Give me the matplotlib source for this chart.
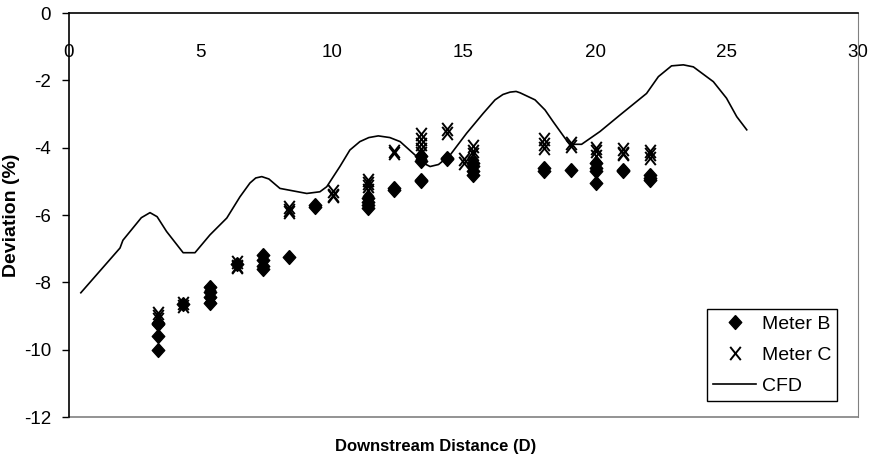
import matplotlib
matplotlib.use("Agg")
import matplotlib.pyplot as plt
from matplotlib.path import Path
import numpy as np

plt.rcParams["font.family"] = ["Liberation Sans", "DejaVu Sans"]
plt.rcParams["axes.unicode_minus"] = False

# Meter B readings, one list per downstream station
B_X = [3.4, 4.35, 5.36, 6.4, 7.36, 8.38, 9.35, 11.38, 12.36, 13.37,
       14.39, 15.35, 18.06, 19.08, 20.04, 21.05, 22.09]
B_Y = [[-9.2, -9.25, -9.6, -10.0],
       [-8.65],
       [-8.15, -8.3, -8.45, -8.6],
       [-7.45],
       [-7.2, -7.35, -7.5, -7.6],
       [-7.24],
       [-5.7, -5.75],
       [-5.5, -5.6, -5.7, -5.8],
       [-5.2, -5.25],
       [-4.25, -4.4, -4.95, -5.0],
       [-4.3, -4.35],
       [-4.45, -4.55, -4.7, -4.8],
       [-4.6, -4.7],
       [-4.65],
       [-4.45, -4.6, -4.7, -5.05],
       [-4.65, -4.7],
       [-4.8, -4.9, -4.95]]

# Meter C readings
C_X = [3.4, 4.35, 5.36, 6.4, 8.38, 10.05, 11.38, 12.36, 13.37, 14.39,
       15.02, 15.35, 18.06, 19.08, 20.04, 21.05, 22.09]
C_Y = [[-8.9, -9.0, -9.1],
       [-8.6, -8.7],
       [-8.3, -8.4],
       [-7.4, -7.5, -7.55],
       [-5.75, -5.85, -5.9],
       [-5.3, -5.4, -5.45],
       [-4.95, -5.05, -5.15, -5.25],
       [-4.1, -4.15],
       [-3.6, -3.75, -3.9, -4.05, -4.15],
       [-3.45, -3.55],
       [-4.35, -4.45],
       [-3.95, -4.1, -4.2],
       [-3.75, -3.9, -4.0],
       [-3.85, -3.95],
       [-4.0, -4.1, -4.25],
       [-4.05, -4.15, -4.2],
       [-4.1, -4.2, -4.3]]

# CFD profile
CFD_X = [0.45, 1.94, 2.05, 2.75, 3.08, 3.35, 3.71, 4.34, 4.79, 5.36, 6.0,
         6.5, 6.88, 7.1, 7.33, 7.6, 8.02, 9.04, 9.54, 9.8, 10.3, 10.68,
         11.06, 11.4, 11.76, 12.2, 12.59, 13.16, 13.45, 13.73, 14.05,
         14.49, 15.12, 15.75, 16.2, 16.5, 16.77, 17.0, 17.15, 17.72, 18.1,
         18.41, 18.86, 19.05, 19.49, 20.19, 20.95, 21.96, 22.41, 22.91,
         23.36, 23.74, 24.5, 25.0, 25.39, 25.77]
CFD_Y = [-8.31, -6.98, -6.75, -6.08, -5.93, -6.05, -6.49, -7.12, -7.12,
         -6.59, -6.09, -5.46, -5.05, -4.9, -4.86, -4.93, -5.21, -5.36,
         -5.31, -5.16, -4.56, -4.07, -3.82, -3.7, -3.65, -3.7, -3.82,
         -4.22, -4.45, -4.56, -4.5, -4.22, -3.57, -2.98, -2.58, -2.42,
         -2.35, -2.33, -2.37, -2.58, -2.88, -3.23, -3.72, -3.9, -3.9,
         -3.52, -3.03, -2.39, -1.89, -1.57, -1.54, -1.6, -2.04, -2.53,
         -3.08, -3.47]

diamond = [(0, 1), (0.9, 0), (0, -1), (-0.9, 0), (0, 1)]
cross = Path([(-0.8, -1), (0.8, 1), (-0.8, 1), (0.8, -1)],
             [Path.MOVETO, Path.LINETO, Path.MOVETO, Path.LINETO])

bx = [x for x, ys in zip(B_X, B_Y) for _ in ys]
by = [y for ys in B_Y for y in ys]
cx = [x for x, ys in zip(C_X, C_Y) for _ in ys]
cy = [y for ys in C_Y for y in ys]

fig = plt.figure(figsize=(8.72, 4.67), dpi=100)
ax = fig.add_axes([69 / 872, 1 - 417 / 467, (858 - 69) / 872, (417 - 13) / 467])

ax.plot(bx, by, linestyle="none", marker=diamond, markersize=10,
        color="black", label="Meter B")
ax.plot(cx, cy, linestyle="none", marker=cross, markersize=9.5,
        markerfacecolor="none", markeredgecolor="black", markeredgewidth=1.4,
        label="Meter C")
ax.plot(CFD_X, CFD_Y, color="black", linewidth=1.2, label="CFD")

ax.set_xlim(0, 30)
ax.set_ylim(-12, 0)
ax.set_xticks(np.arange(0, 31, 5))
ax.set_yticks(np.arange(-12, 1, 2))

# x axis crosses at y = 0, so it sits on top of the plot area
ax.spines["bottom"].set_position(("data", 0))
ax.spines["top"].set_visible(False)
ax.spines["right"].set_color("#808080")
ax.axhline(-12, color="#808080", linewidth=1.2, clip_on=False)
for s in ("bottom", "left"):
    ax.spines[s].set_linewidth(1.2)

ax.tick_params(axis="x", length=0, pad=22, labelsize=13.5)
ax.tick_params(axis="y", direction="out", length=5, width=1, pad=8,
               labelsize=13.5)

ax.set_ylabel("Deviation (%)", fontsize=14, fontweight="bold")
ax.yaxis.set_label_coords(-49 / 789, 0.5)
fig.text(436 / 872, 1 - 446 / 467, "Downstream Distance (D)",
         ha="center", va="center", fontsize=12, fontweight="bold")

leg = ax.legend(loc="lower right", bbox_to_anchor=(837 / 872, 1 - 401 / 467),
                bbox_transform=fig.transFigure, fontsize=14, frameon=True,
                fancybox=False, edgecolor="black", framealpha=1,
                borderpad=0.3, handlelength=2.2, handletextpad=0.3,
                labelspacing=0.7, borderaxespad=0)
leg.get_frame().set_linewidth(1.0)

fig.savefig("out.png", dpi=100)
